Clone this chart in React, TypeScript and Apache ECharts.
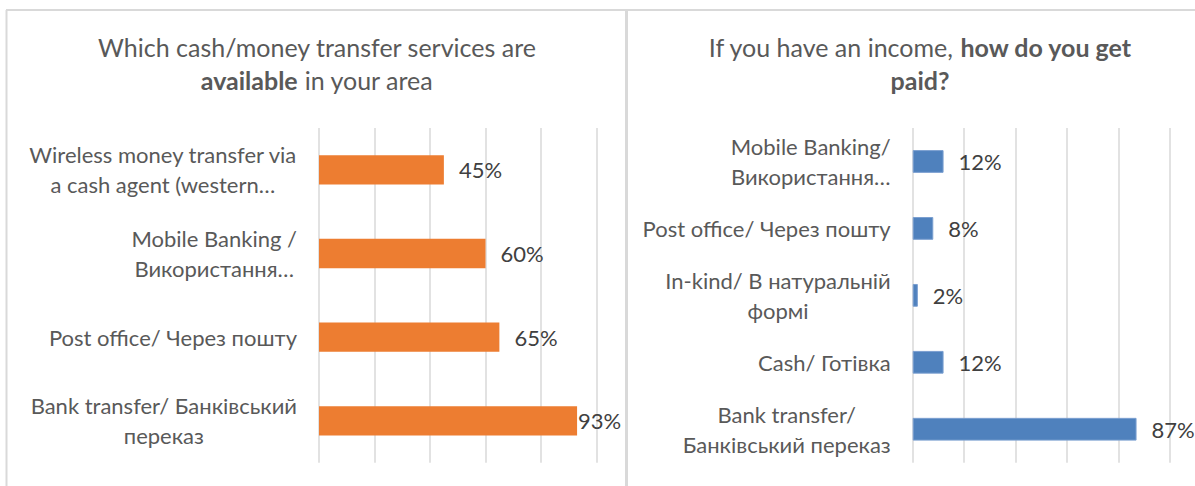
import React, { useEffect, useRef } from "react";
import * as echarts from "echarts";

const availCategories = [
  "Wireless money transfer via\na cash agent (western…",
  "Mobile Banking /\nВикористання…",
  "Post office/ Через пошту",
  "Bank transfer/ Банківський\nпереказ",
];
const availValues = [45, 60, 65, 93];

const paidCategories = [
  "Mobile Banking/\nВикористання…",
  "Post office/ Через пошту",
  "In-kind/ В натуральній\nформі",
  "Cash/ Готівка",
  "Bank transfer/\nБанківський переказ",
];
const paidValues = [12, 8, 2, 12, 87];

const axisTicks = [0, 20, 40, 60, 80, 100];

const FONT = "Lato";
const LABEL_SIZE = 22;
const TITLE_SIZE = 25;

function measure(text: string, size: number): number {
  const c = document.createElement("canvas").getContext("2d");
  if (!c) return text.length * size * 0.5;
  c.font = `${size}px ${FONT}`;
  return c.measureText(text).width;
}

function centeredLabels(cats: string[]) {
  const rich: Record<string, any> = {};
  cats.forEach((cat, i) => {
    const w = Math.max(...cat.split("\n").map((l) => measure(l, LABEL_SIZE))) + 2;
    rich["l" + i] = {
      width: w,
      align: "center",
      fontFamily: FONT,
      fontSize: LABEL_SIZE,
      color: "#595959",
      lineHeight: 30,
    };
  });
  const formatter = (value: string) => {
    const i = cats.indexOf(value);
    return value
      .split("\n")
      .map((l) => `{l${i}|${l}}`)
      .join("\n");
  };
  return { rich, formatter };
}

export default function App() {
  const ref = useRef<HTMLDivElement>(null);
  useEffect(() => {
    if (!ref.current) return;
    const chart = echarts.init(ref.current, null, { renderer: "svg" });
    const rich = {
      n: { fontFamily: FONT, fontSize: TITLE_SIZE, color: "#595959", fontWeight: "normal", lineHeight: 33 },
      b: { fontFamily: FONT, fontSize: TITLE_SIZE, color: "#595959", fontWeight: "bold", lineHeight: 33 },
    };
    const xAx = (gridIndex: number) => ({
      type: "value",
      gridIndex,
      min: axisTicks[0],
      max: axisTicks[axisTicks.length - 1],
      interval: axisTicks[1] - axisTicks[0],
      axisLine: { show: false },
      axisTick: { show: false },
      axisLabel: { show: false },
      splitLine: { show: true, lineStyle: { color: "#d9d9d9", width: 1.5 } },
    });
    const yAx = (gridIndex: number, data: string[]) => {
      const { rich: r, formatter } = centeredLabels(data);
      return {
        type: "category",
        gridIndex,
        data,
        inverse: true,
        axisLine: { show: false },
        axisTick: { show: false },
        axisLabel: {
          fontFamily: FONT,
          fontSize: LABEL_SIZE,
          color: "#595959",
          lineHeight: 30,
          margin: 21,
          align: "right",
          formatter,
          rich: r,
        },
      };
    };
    const valLabel = {
      show: true,
      position: "right",
      distance: 15,
      fontFamily: FONT,
      fontSize: LABEL_SIZE,
      color: "#404040",
      formatter: "{c}%",
    };
    chart.setOption({
      animation: false,
      backgroundColor: "#ffffff",
      title: [
        {
          text: "{n|Which cash/money transfer services are}\n{b|available}{n| in your area}",
          left: 312,
          top: 25,
          textAlign: "center",
          textStyle: { fontWeight: "normal", rich },
        },
        {
          text: "{n|If you have an income, }{b|how do you get}\n{b|paid?}",
          left: 915,
          top: 25,
          textAlign: "center",
          textStyle: { fontWeight: "normal", rich },
        },
      ],
      grid: [
        { left: 319, width: 277.5, top: 128, height: 334.7 },
        { left: 912.7, width: 257.3, top: 128, height: 334.7 },
      ],
      xAxis: [xAx(0), xAx(1)],
      yAxis: [yAx(0, availCategories), yAx(1, paidCategories)],
      series: [
        {
          type: "bar",
          xAxisIndex: 0,
          yAxisIndex: 0,
          barWidth: "35%",
          itemStyle: { color: "#ED7D31" },
          label: valLabel,
          data: availValues.map((v, i) =>
            i === availValues.length - 1 ? { value: v, label: { distance: 1 } } : v
          ),
        },
        {
          type: "bar",
          xAxisIndex: 1,
          yAxisIndex: 1,
          barWidth: "34%",
          itemStyle: { color: "#4F81BD", borderColor: "#7A9FD0", borderWidth: 1 },
          label: valLabel,
          data: paidValues,
        },
      ],
      graphic: [
        { type: "line", shape: { x1: 6, y1: 10, x2: 1195, y2: 10 }, style: { stroke: "#d9d9d9", lineWidth: 2 } },
        { type: "line", shape: { x1: 6.5, y1: 10, x2: 6.5, y2: 486 }, style: { stroke: "#d9d9d9", lineWidth: 2 } },
        { type: "line", shape: { x1: 626.5, y1: 10, x2: 626.5, y2: 486 }, style: { stroke: "#d9d9d9", lineWidth: 3 } },
      ],
    });
    return () => chart.dispose();
  }, []);
  return (
    <div
      ref={ref}
      style={{ position: "fixed", left: 0, top: 0, width: 1195, height: 486 }}
    />
  );
}
